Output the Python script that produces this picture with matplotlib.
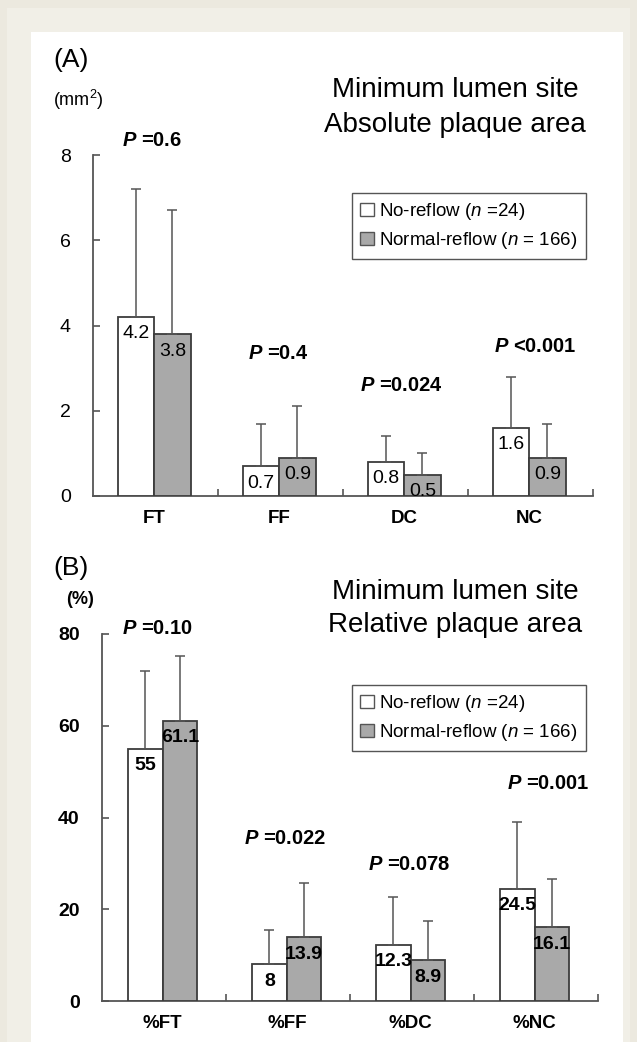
import matplotlib
matplotlib.use("Agg")
import matplotlib.pyplot as plt
import numpy as np
from matplotlib.patches import Patch, Rectangle

plt.rcParams['font.family'] = ['Liberation Sans', 'DejaVu Sans']
plt.rcParams['mathtext.fontset'] = 'custom'
plt.rcParams['mathtext.rm'] = 'Liberation Sans'
plt.rcParams['mathtext.it'] = 'Liberation Sans:italic'
plt.rcParams['mathtext.bf'] = 'Liberation Sans:bold'
plt.rcParams['mathtext.bfit'] = 'Liberation Sans:italic:bold'

# Panel A: absolute plaque area (mm2)
cats_a = ['FT', 'FF', 'DC', 'NC']
noreflow_a = [4.2, 0.7, 0.8, 1.6]
noreflow_a_sd = [3.0, 1.0, 0.6, 1.2]
normal_a = [3.8, 0.9, 0.5, 0.9]
normal_a_sd = [2.9, 1.2, 0.5, 0.8]
pvals_a = ['=0.6', '=0.4', '=0.024', '<0.001']

# Panel B: relative plaque area (%)
cats_b = ['%FT', '%FF', '%DC', '%NC']
noreflow_b = [55, 8, 12.3, 24.5]
noreflow_b_sd = [17.0, 7.5, 10.4, 14.5]
normal_b = [61.1, 13.9, 8.9, 16.1]
normal_b_sd = [14.1, 11.8, 8.5, 10.5]
pvals_b = ['=0.10', '=0.022', '=0.078', '=0.001']

legend_labels = [r'No-reflow ($\mathit{n}$ =24)', r'Normal-reflow ($\mathit{n}$ = 166)']

W, H = 637, 1042
fig = plt.figure(figsize=(W / 100, H / 100), dpi=100)
fig.patch.set_facecolor('#ece9df')
fig.patches.append(Rectangle((7 / W, 0), 623 / W, 1 - 8 / H, transform=fig.transFigure,
                             facecolor='#f1efe7', edgecolor='none', zorder=-2))
fig.patches.append(Rectangle((31 / W, 0), 592 / W, 1 - 32 / H, transform=fig.transFigure,
                             facecolor='white', edgecolor='none', zorder=-1))

EDGE = '#3c3c3c'
GRAY = '#a9a9a9'


def fx(px):
    return px / W


def fy(py):
    return 1 - py / H


def draw_panel(ax, cats, v1, s1, v2, s2, pvals, p_pos, ymax, yticks, bold, width):
    x = np.arange(len(cats)) + 0.49
    ax.bar(x - width / 2, v1, width, color='white', edgecolor=EDGE, linewidth=1.3,
           yerr=[np.zeros(len(s1)), s1], capsize=3.5,
           error_kw=dict(ecolor='#555555', elinewidth=1.1, capthick=1.1), zorder=3)
    ax.bar(x + width / 2, v2, width, color=GRAY, edgecolor=EDGE, linewidth=1.3,
           yerr=[np.zeros(len(s2)), s2], capsize=3.5,
           error_kw=dict(ecolor='#555555', elinewidth=1.1, capthick=1.1), zorder=3)
    fw = 'bold' if bold else 'normal'
    for xi, a, b in zip(x, v1, v2):
        ax.annotate(f'{a:g}', (xi - width / 2, a), xytext=(0, -17), textcoords='offset pixels',
                    ha='center', va='center', fontsize=14, fontweight=fw, zorder=5)
        ax.annotate(f'{b:g}', (xi + width / 2, b), xytext=(0, -17), textcoords='offset pixels',
                    ha='center', va='center', fontsize=14, fontweight=fw, zorder=5)
    for txt, (px, py) in zip(pvals, p_pos):
        ax.text(px, py, r'$\mathbfit{P}$' + ' ' + txt, ha='center', va='center',
                fontsize=14.5, fontweight='bold', clip_on=False)
    ax.set_xlim(0, len(cats))
    ax.set_ylim(0, ymax)
    for s in ['top', 'right']:
        ax.spines[s].set_visible(False)
    for s in ['left', 'bottom']:
        ax.spines[s].set_color('#555555')
        ax.spines[s].set_linewidth(1.3)
    ax.set_xticks(np.arange(1, len(cats) + 1))
    ax.set_xticklabels([])
    ax.set_xticks(x, minor=True)
    ax.set_xticklabels(cats, minor=True, fontsize=13.5, fontweight='bold')
    ax.tick_params(axis='x', which='major', direction='in', length=5, color='#555555', width=1.2)
    ax.tick_params(axis='x', which='minor', length=0, pad=10)
    ax.set_yticks(yticks)
    ax.set_yticklabels([str(t) for t in yticks], fontsize=14, fontweight=fw)
    ax.tick_params(axis='y', direction='in', length=5, color='#555555', width=1.2, pad=16)
    ax.legend(handles=[Patch(facecolor='white', edgecolor='#555555'),
                       Patch(facecolor=GRAY, edgecolor='#555555')],
              labels=legend_labels, loc='upper left', fontsize=13.5,
              handlelength=0.7, handleheight=0.7, handletextpad=0.3,
              fancybox=False, edgecolor='#555555', framealpha=1,
              borderpad=0.45, labelspacing=0.4, borderaxespad=0)


# panel A
axA = fig.add_axes([fx(93), fy(496), fx(593) - fx(93), fy(155) - fy(496)])
draw_panel(axA, cats_a, noreflow_a, noreflow_a_sd, normal_a, normal_a_sd, pvals_a,
           [(0.47, 8.35), (1.48, 3.34), (2.47, 2.6), (3.54, 3.5)], 8, [0, 2, 4, 6, 8], False, 0.29)
axA.get_legend().set_bbox_to_anchor((fx(352), fy(193)), transform=fig.transFigure)

# panel B
axB = fig.add_axes([fx(102), fy(1001), fx(598) - fx(102), fy(634) - fy(1001)])
draw_panel(axB, cats_b, noreflow_b, noreflow_b_sd, normal_b, normal_b_sd, pvals_b,
           [(0.45, 81.2), (1.48, 35.5), (2.48, 29.8), (3.6, 47.5)], 80, [0, 20, 40, 60, 80], True, 0.28)
axB.get_legend().set_bbox_to_anchor((fx(352), fy(685)), transform=fig.transFigure)

# headings
fig.text(fx(53), fy(60), '(A)', fontsize=19, ha='left', va='center')
fig.text(fx(53), fy(100), r'(mm$^{2}$)', fontsize=13, ha='left', va='center')
fig.text(fx(455), fy(90), 'Minimum lumen site', fontsize=20, ha='center', va='center')
fig.text(fx(455), fy(125), 'Absolute plaque area', fontsize=20, ha='center', va='center')

fig.text(fx(53), fy(568), '(B)', fontsize=19, ha='left', va='center')
fig.text(fx(66), fy(600), '(%)', fontsize=13, fontweight='bold', ha='left', va='center')
fig.text(fx(455), fy(592), 'Minimum lumen site', fontsize=20, ha='center', va='center')
fig.text(fx(455), fy(625), 'Relative plaque area', fontsize=20, ha='center', va='center')

fig.savefig('out.png', dpi=100, facecolor=fig.get_facecolor())
